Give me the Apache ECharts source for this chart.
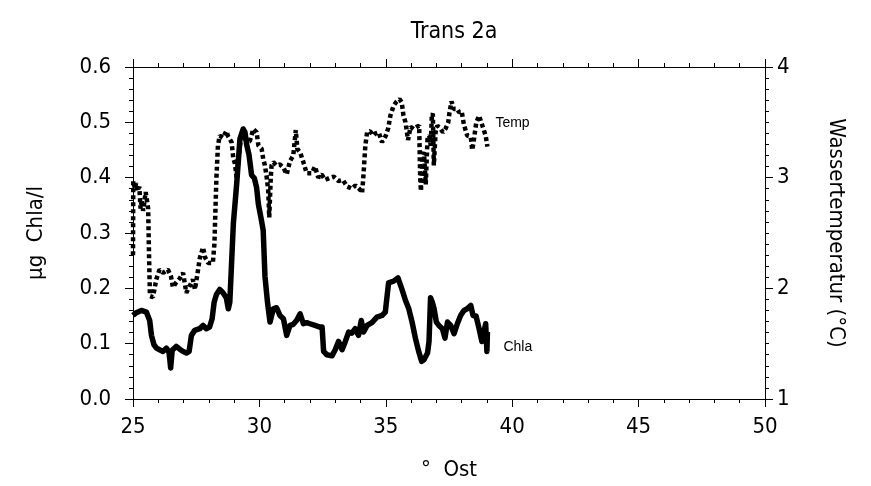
<!DOCTYPE html>
<html><head><meta charset="utf-8">
<script src="https://cdn.jsdelivr.net/npm/echarts@6/dist/echarts.min.js"></script>
<style>html,body{margin:0;padding:0;background:#fff}#c{width:871px;height:486px}</style>
</head><body><div id="c"></div>
<script>
const titleText = 'Trans 2a';
const xTicks = [25, 30, 35, 40, 45, 50];
const chlaTicks = [0.0, 0.1, 0.2, 0.3, 0.4, 0.5, 0.6];
const tempTicks = [1, 2, 3, 4];

const chla = [[25.0,0.151],[25.13,0.156],[25.33,0.160],[25.53,0.157],[25.66,0.142],[25.73,0.115],[25.83,0.098],[25.93,0.092],[26.05,0.089],[26.19,0.086],[26.32,0.092],[26.42,0.085],[26.45,0.074],[26.49,0.056],[26.55,0.088],[26.71,0.095],[26.85,0.090],[26.98,0.086],[27.11,0.083],[27.22,0.086],[27.31,0.115],[27.44,0.124],[27.64,0.127],[27.77,0.133],[27.9,0.127],[28.03,0.130],[28.13,0.145],[28.21,0.175],[28.30,0.189],[28.43,0.198],[28.56,0.192],[28.69,0.183],[28.77,0.163],[28.83,0.175],[28.90,0.246],[28.97,0.317],[29.10,0.388],[29.23,0.470],[29.36,0.488],[29.43,0.482],[29.5,0.459],[29.59,0.441],[29.69,0.405],[29.80,0.399],[29.89,0.382],[29.96,0.352],[30.06,0.328],[30.15,0.305],[30.22,0.222],[30.32,0.175],[30.42,0.139],[30.55,0.163],[30.68,0.165],[30.81,0.151],[30.95,0.145],[31.08,0.115],[31.21,0.133],[31.34,0.135],[31.47,0.142],[31.61,0.154],[31.74,0.136],[31.87,0.138],[32.0,0.136],[32.2,0.133],[32.39,0.130],[32.48,0.130],[32.54,0.086],[32.67,0.080],[32.87,0.078],[33.0,0.089],[33.13,0.104],[33.27,0.089],[33.40,0.104],[33.53,0.121],[33.66,0.119],[33.79,0.127],[33.92,0.115],[34.03,0.142],[34.12,0.121],[34.26,0.133],[34.45,0.138],[34.65,0.148],[34.85,0.151],[34.98,0.157],[35.11,0.210],[35.31,0.213],[35.48,0.219],[35.64,0.198],[35.78,0.178],[35.91,0.163],[36.04,0.139],[36.17,0.110],[36.30,0.086],[36.42,0.068],[36.51,0.071],[36.65,0.083],[36.71,0.104],[36.77,0.183],[36.84,0.175],[36.91,0.163],[37.0,0.139],[37.1,0.133],[37.24,0.127],[37.34,0.110],[37.44,0.139],[37.57,0.133],[37.70,0.118],[37.83,0.136],[37.96,0.151],[38.09,0.160],[38.22,0.163],[38.36,0.169],[38.45,0.151],[38.57,0.150],[38.69,0.127],[38.80,0.104],[38.88,0.121],[38.95,0.136],[39.0,0.086],[39.02,0.121]];

const temp = [[25.00,2.30],[25.01,2.97],[25.08,2.90],[25.12,2.95],[25.2,2.88],[25.25,2.92],[25.3,2.72],[25.35,2.80],[25.4,2.70],[25.45,2.78],[25.5,2.87],[25.55,2.80],[25.6,2.72],[25.63,2.35],[25.67,1.93],[25.79,1.92],[25.92,2.08],[26.05,2.17],[26.19,2.14],[26.38,2.17],[26.5,2.11],[26.58,2.01],[26.7,2.05],[26.85,2.09],[26.98,2.14],[27.11,1.96],[27.24,2.02],[27.37,2.08],[27.45,1.99],[27.55,2.13],[27.64,2.27],[27.77,2.37],[27.85,2.28],[27.97,2.23],[28.16,2.23],[28.22,2.40],[28.30,3.0],[28.36,3.29],[28.43,3.38],[28.56,3.36],[28.69,3.42],[28.77,3.37],[28.9,3.32],[28.97,3.17],[29.03,3.13],[29.10,3.0],[29.23,3.29],[29.36,3.41],[29.5,3.32],[29.62,3.33],[29.76,3.44],[29.89,3.41],[29.96,3.29],[30.09,3.26],[30.15,3.17],[30.22,3.11],[30.29,3.0],[30.35,2.88],[30.39,2.64],[30.45,3.0],[30.48,3.11],[30.55,3.14],[30.68,3.11],[30.81,3.12],[30.95,3.09],[31.08,3.03],[31.21,3.15],[31.34,3.20],[31.44,3.43],[31.5,3.26],[31.61,3.23],[31.74,3.14],[31.87,3.04],[32.07,3.04],[32.2,3.10],[32.33,3.00],[32.46,3.03],[32.6,2.98],[32.67,2.97],[32.8,3.00],[32.94,3.01],[33.13,2.97],[33.3,2.98],[33.47,2.92],[33.66,2.90],[33.8,2.93],[33.99,2.89],[34.06,2.86],[34.11,3.0],[34.19,3.29],[34.26,3.41],[34.38,3.42],[34.5,3.38],[34.59,3.40],[34.72,3.41],[34.85,3.32],[35.0,3.38],[35.1,3.45],[35.18,3.56],[35.31,3.65],[35.4,3.68],[35.54,3.71],[35.63,3.68],[35.7,3.56],[35.78,3.50],[35.88,3.34],[35.98,3.46],[36.10,3.44],[36.23,3.46],[36.32,3.47],[36.36,3.0],[36.39,2.88],[36.45,3.2],[36.51,3.23],[36.58,2.94],[36.65,3.35],[36.72,3.38],[36.78,3.29],[36.82,3.56],[36.86,3.58],[36.90,3.11],[36.97,3.41],[37.04,3.47],[37.17,3.44],[37.26,3.41],[37.36,3.44],[37.47,3.50],[37.52,3.59],[37.60,3.69],[37.69,3.62],[37.83,3.62],[37.9,3.59],[38.0,3.60],[38.09,3.48],[38.22,3.38],[38.36,3.37],[38.42,3.25],[38.49,3.35],[38.58,3.50],[38.69,3.56],[38.75,3.57],[38.82,3.47],[38.95,3.38],[39.02,3.28]];

const FONT = '"Liberation Sans Narrow","DejaVu Sans Condensed","Liberation Sans",Arial,sans-serif';
const chart = echarts.init(document.getElementById('c'), null, {renderer: 'canvas'});
const axLine = {show: true, lineStyle: {color: '#000', width: 1}};
chart.setOption({
  animation: false,
  backgroundColor: '#fff',
  title: {text: titleText, left: 449, textAlign: 'center', top: 16,
    textStyle: {fontFamily: FONT, fontSize: 23, fontWeight: 'normal', color: '#000'}},
  grid: {left: 133, right: 106, top: 67, bottom: 81, containLabel: false},
  xAxis: [
    {type: 'value', position: 'bottom', min: xTicks[0], max: xTicks[xTicks.length-1], interval: 5,
     name: '°  Ost', nameLocation: 'middle', nameGap: 60,
     nameTextStyle: {fontFamily: FONT, fontSize: 22, color: '#000'},
     axisLine: axLine, axisTick: {show: true, inside: false, length: 8, lineStyle: {color: '#000'}},
     minorTick: {show: true, splitNumber: 5, length: 4, lineStyle: {color: '#000'}},
     axisLabel: {fontFamily: FONT, fontSize: 22, color: '#000', margin: 17},
     splitLine: {show: false}},
    {type: 'value', position: 'top', min: xTicks[0], max: xTicks[xTicks.length-1], interval: 5,
     axisLine: axLine, axisTick: {show: true, inside: false, length: 8, lineStyle: {color: '#000'}},
     minorTick: {show: true, splitNumber: 5, length: 4, lineStyle: {color: '#000'}},
     axisLabel: {show: false}, splitLine: {show: false}}
  ],
  yAxis: [
    {type: 'value', position: 'left', min: chlaTicks[0], max: chlaTicks[chlaTicks.length-1], interval: 0.1,
     name: 'µg  Chla/l', nameLocation: 'middle', nameGap: 86,
     nameTextStyle: {fontFamily: FONT, fontSize: 22, color: '#000'},
     axisLine: axLine, axisTick: {show: true, inside: false, length: 8, lineStyle: {color: '#000'}},
     minorTick: {show: true, splitNumber: 5, length: 4, lineStyle: {color: '#000'}},
     axisLabel: {fontFamily: FONT, fontSize: 22, color: '#000', margin: 22, formatter: v => v.toFixed(1)},
     splitLine: {show: false}},
    {type: 'value', position: 'right', min: tempTicks[0], max: tempTicks[tempTicks.length-1], interval: 1,
     name: 'Wassertemperatur (°C)', nameLocation: 'middle', nameGap: 60, nameRotate: -90,
     nameTextStyle: {fontFamily: FONT, fontSize: 22, color: '#000'},
     axisLine: axLine, axisTick: {show: true, inside: false, length: 8, lineStyle: {color: '#000'}},
     minorTick: {show: true, splitNumber: 10, length: 4, lineStyle: {color: '#000'}},
     axisLabel: {fontFamily: FONT, fontSize: 22, color: '#000', margin: 12},
     splitLine: {show: false}}
  ],
  series: [
    {name: 'Chla', type: 'line', xAxisIndex: 0, yAxisIndex: 0, data: chla, showSymbol: false,
     lineStyle: {color: '#000', width: 5.5, join: 'round'},
     endLabel: {show: true, formatter: 'Chla', offset: [8, 15], fontFamily: '"Liberation Sans",Arial,sans-serif', fontSize: 14, color: '#000'}},
    {name: 'Temp', type: 'line', xAxisIndex: 0, yAxisIndex: 1, data: temp, showSymbol: false,
     lineStyle: {color: '#000', width: 4.5, type: [4, 3]},
     endLabel: {show: true, formatter: 'Temp', offset: [0, -24], fontFamily: '"Liberation Sans",Arial,sans-serif', fontSize: 14, color: '#000'}}
  ]
});
</script></body></html>
